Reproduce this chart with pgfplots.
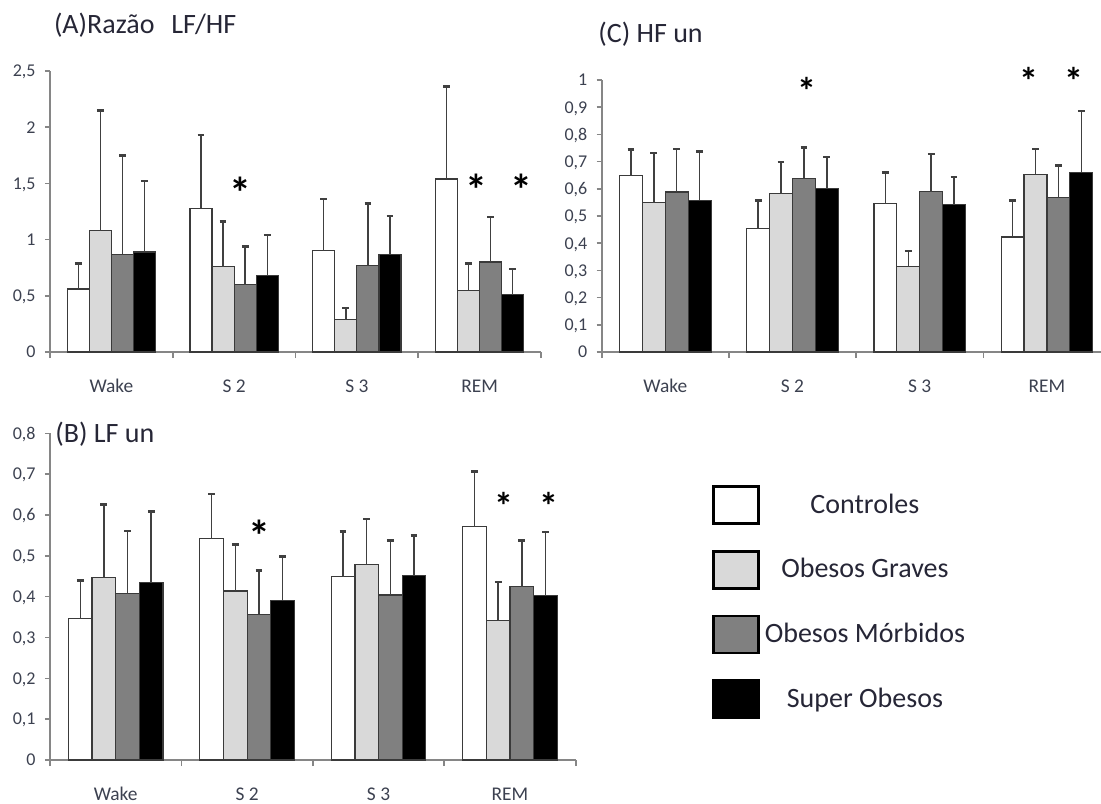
\documentclass[border=0pt]{standalone}
\usepackage{fontspec}
\setmainfont{Carlito}
\usepackage{pgfplots}
\pgfplotsset{compat=1.18}
\usepackage{pgfplotstable}

\definecolor{axgray}{HTML}{868686}
\definecolor{lblc}{HTML}{3C4150}
\definecolor{titlec}{HTML}{262636}
\definecolor{lgray}{HTML}{D9D9D9}
\definecolor{dgray}{HTML}{808080}
\definecolor{outl}{HTML}{3A3A3A}
\definecolor{errc}{HTML}{404040}

% bar positions of the four groups (Controles, Obesos Graves, Obesos Morbidos, Super Obesos)
% C/G/M/S = mean, Ce/Ge/Me/Se = upper error
\pgfplotstableread{
xC   xG   xM   xS   C    Ce   G    Ge   M    Me   S    Se
0.23 0.41 0.59 0.77 0.56 0.23 1.08 1.07 0.87 0.88 0.89 0.63
1.23 1.41 1.59 1.77 1.28 0.65 0.76 0.40 0.60 0.34 0.68 0.36
2.23 2.41 2.59 2.77 0.90 0.46 0.29 0.10 0.77 0.55 0.87 0.34
3.23 3.41 3.59 3.77 1.54 0.82 0.55 0.24 0.80 0.40 0.51 0.23
}\tableA

\pgfplotstableread{
xC   xG   xM   xS   C     Ce    G     Ge    M     Me    S     Se
0.23 0.41 0.59 0.77 0.347 0.093 0.447 0.178 0.408 0.153 0.434 0.174
1.23 1.41 1.59 1.77 0.543 0.108 0.414 0.114 0.357 0.107 0.391 0.107
2.23 2.41 2.59 2.77 0.450 0.110 0.479 0.111 0.404 0.134 0.451 0.099
3.23 3.41 3.59 3.77 0.572 0.134 0.342 0.094 0.424 0.113 0.402 0.156
}\tableB

\pgfplotstableread{
xC   xG   xM   xS   C     Ce    G     Ge    M     Me    S     Se
0.23 0.41 0.59 0.77 0.650 0.095 0.550 0.181 0.588 0.159 0.558 0.179
1.23 1.41 1.59 1.77 0.453 0.105 0.583 0.115 0.639 0.112 0.601 0.116
2.23 2.41 2.59 2.77 0.546 0.113 0.315 0.056 0.590 0.138 0.541 0.102
3.23 3.41 3.59 3.77 0.423 0.133 0.654 0.093 0.567 0.119 0.661 0.225
}\tableC

\pgfplotsset{
 panel/.style={
  scale only axis, anchor=south west, clip=false,
  axis lines=left, axis line style={-, draw=axgray, line width=0.8pt},
  tick align=outside,
  xmin=0, ymin=0,
  xtick={0.5,1.5,2.5,3.5}, xticklabels={Wake,S 2,S 3,REM},
  minor xtick={0,1,2,3,4},
  major tick length=2.5pt, minor tick length=3pt,
  tick style={draw=axgray, line width=0.8pt},
  major x tick style={draw=none},
  xticklabel style={font=\fontsize{9.7}{10}\selectfont, text=lblc, anchor=base, yshift=-17.8pt},
  yticklabel style={font=\fontsize{9}{9}\selectfont, text=lblc, anchor=base east, inner sep=0pt, xshift=-4.5pt, yshift=-2.9pt},
  /pgf/number format/fixed, /pgf/number format/use comma,
  /pgf/number format/precision=1, /pgf/number format/assume math mode=true,
 },
 bars/.style={ybar, bar width=0.18, bar shift=0pt, draw=outl, line width=0.6pt,
   error bars/y dir=plus, error bars/y explicit,
   error bars/error bar style={draw=errc, line width=0.7pt},
   error bars/error mark options={rotate=90, draw=errc, line width=1.3pt, mark size=1.7pt}},
 star/.style={only marks, mark=text, text mark={*}, text mark as node=true,
   text mark style={font=\fontsize{#1}{#1}\selectfont\bfseries, inner sep=0pt, text=black}, color=black, forget plot},
}

\begin{document}
\begin{tikzpicture}
\useasboundingbox (0pt,0pt) rectangle (550.5pt,-401.5pt);

% ---------------- (A)
\begin{axis}[panel, at={(25pt,-176pt)}, width=245.5pt, height=140.5pt,
  xmax=4, ymax=2.5, ytick={0,0.5,1,1.5,2,2.5}]
\addplot[bars, fill=white] table[x=xC, y=C, y error=Ce] {\tableA};
\addplot[bars, fill=lgray] table[x=xG, y=G, y error=Ge] {\tableA};
\addplot[bars, fill=dgray] table[x=xM, y=M, y error=Me] {\tableA};
\addplot[bars, fill=black] table[x=xS, y=S, y error=Se] {\tableA};
\addplot[star=22] coordinates {(1.55,1.42) (3.475,1.44) (3.84,1.44)};
\end{axis}

% ---------------- (B)
\begin{axis}[panel, at={(25pt,-380pt)}, width=262.85pt, height=163.35pt,
  xmax=4, ymax=0.8, ytick={0,0.1,0.2,0.3,0.4,0.5,0.6,0.7,0.8},
  legend cell align=center,
  legend style={at={(1.2593,0.8417)}, anchor=north west, draw=none, fill=none,
    inner sep=0pt, outer sep=0pt, row sep=12.5pt, column sep=2.5pt,
    font=\fontsize{14}{14}\selectfont, text=titlec, nodes={inner sep=0pt}}]
\addplot[bars, fill=white, forget plot] table[x=xC, y=C, y error=Ce] {\tableB};
\addplot[bars, fill=lgray, forget plot] table[x=xG, y=G, y error=Ge] {\tableB};
\addplot[bars, fill=dgray, forget plot] table[x=xM, y=M, y error=Me] {\tableB};
\addplot[bars, fill=black, forget plot] table[x=xS, y=S, y error=Se] {\tableB};
\addplot[star=22] coordinates {(1.596,0.548)};
\addplot[star=19] coordinates {(3.453,0.622) (3.793,0.622)};
\addlegendimage{legend image code/.code={\draw[fill=white, draw=black, line width=1.4pt] (0pt,-9.25pt) rectangle (22.5pt,9.25pt);}}
\addlegendentry{Controles}
\addlegendimage{legend image code/.code={\draw[fill=lgray, draw=black, line width=1.4pt] (0pt,-9.25pt) rectangle (22.5pt,9.25pt);}}
\addlegendentry{Obesos Graves}
\addlegendimage{legend image code/.code={\draw[fill=dgray, draw=black, line width=1.4pt] (0pt,-9.25pt) rectangle (22.5pt,9.25pt);}}
\addlegendentry{Obesos Mórbidos}
\addlegendimage{legend image code/.code={\draw[fill=black, draw=black, line width=1.4pt] (0pt,-9.25pt) rectangle (22.5pt,9.25pt);}}
\addlegendentry{Super Obesos}
\end{axis}

% ---------------- (C)
\begin{axis}[panel, at={(300.85pt,-176pt)}, width=249.65pt, height=136pt,
  xmax=3.925, ymax=1, ytick={0,0.1,0.2,0.3,0.4,0.5,0.6,0.7,0.8,0.9,1}]
\addplot[bars, fill=white] table[x=xC, y=C, y error=Ce] {\tableC};
\addplot[bars, fill=lgray] table[x=xG, y=G, y error=Ge] {\tableC};
\addplot[bars, fill=dgray] table[x=xM, y=M, y error=Me] {\tableC};
\addplot[bars, fill=black] table[x=xS, y=S, y error=Se] {\tableC};
\addplot[star=19] coordinates {(1.615,0.96) (3.36,0.995) (3.715,0.995)};
\end{axis}

% titles
\node[anchor=base west, inner sep=0pt, text=titlec, font=\fontsize{14}{14}\selectfont] at (26.8pt,-16.8pt) {(A)Razão\hspace{0.6em}LF/HF};
\node[anchor=base west, inner sep=0pt, text=titlec, font=\fontsize{14}{14}\selectfont] at (27.5pt,-221pt) {(B) LF un};
\node[anchor=base west, inner sep=0pt, text=titlec, font=\fontsize{14}{14}\selectfont] at (299pt,-21pt) {(C) HF un};
\end{tikzpicture}
\end{document}
